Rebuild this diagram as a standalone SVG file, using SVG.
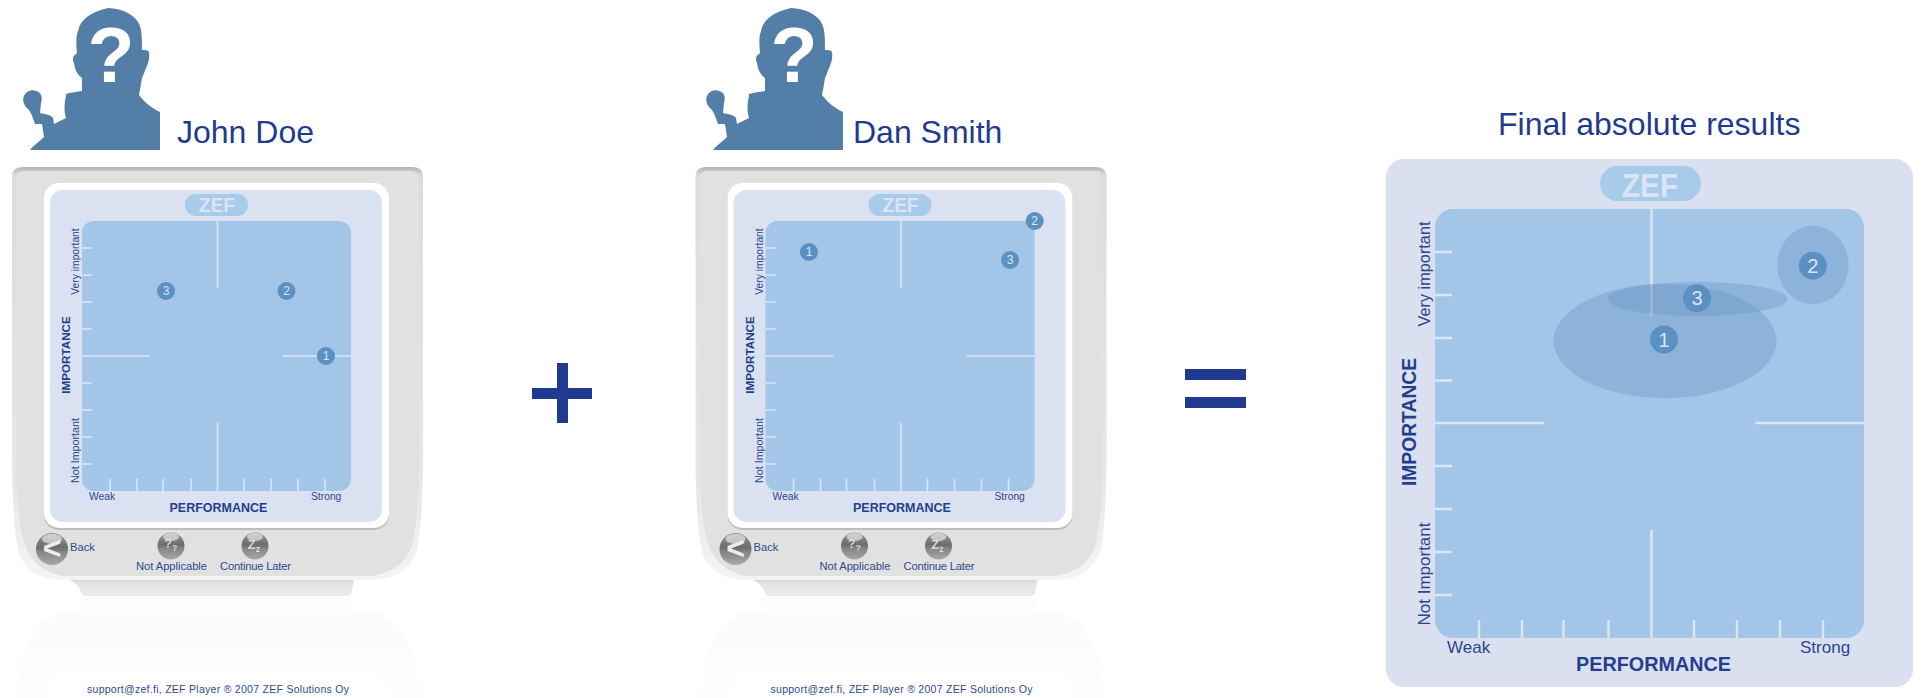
<svg xmlns="http://www.w3.org/2000/svg" width="1921" height="698" viewBox="0 0 1921 698">
<style>
text{font-family:"Liberation Sans",Arial,sans-serif;fill:#1f3a8f}
.name{font-size:32px}
.m{fill:#5b91c2}
.mt{fill:#dbe6f3;font-size:12px;text-anchor:middle}
.mtb{fill:#dbe6f3;font-size:20px;text-anchor:middle}
.q{fill:#fff;font-size:77px;font-weight:bold;text-anchor:middle}
.zef{fill:#dbe4f4;font-weight:bold;text-anchor:middle}
.axb{font-weight:bold;fill:#24408c}
.ax{fill:#2c4590}
.btn{fill:#2f4a8f;font-size:11.2px}
.foot{font-size:10.5px;fill:#2f4a8f}
.g{fill:#eee;font-weight:bold;text-anchor:middle}
.tick{stroke:#dbe6f4;stroke-width:1.6;fill:none}
.tickb{stroke:#dbe6f4;stroke-width:2.4;fill:none}
</style>
<defs>
<linearGradient id="bg" x1="0" y1="0" x2="0" y2="1"><stop offset="0" stop-color="#9a9a9a"/><stop offset=".45" stop-color="#6c6c6c"/><stop offset=".6" stop-color="#868686"/><stop offset="1" stop-color="#a8a8a8"/></linearGradient>
<linearGradient id="rf" x1="0" y1="0" x2="0" y2="1"><stop offset="0" stop-color="#fbfbfb"/><stop offset="1" stop-color="#fdfdfd"/></linearGradient>
<linearGradient id="rim" x1="0" y1="0" x2="0" y2="1"><stop offset="0" stop-color="#b4b4b4"/><stop offset=".02" stop-color="#dcdcdc"/><stop offset=".75" stop-color="#e6e6e6"/><stop offset="1" stop-color="#f4f4f4"/></linearGradient>
<linearGradient id="neck" x1="0" y1="0" x2="0" y2="1"><stop offset="0" stop-color="#d0d0d0"/><stop offset=".3" stop-color="#e4e4e4"/><stop offset="1" stop-color="#ececec"/></linearGradient>
<filter id="s" x="-5%" y="-5%" width="110%" height="110%"><feGaussianBlur stdDeviation=".7"/></filter>
<g id="person">
<path fill="#527ea8" d="M30 150C33 146 40 141 44 137L42 124L35 124C33 118 31 112 28 109C24 106 22 100 24 96C26 91 32 89 36 91C41 92 43 97 41 103L40 113C45 114 51 115 53 118L54 124C58 122 62 120 66 118C64 112 64 104 66 96L66 94C72 92 77 92 82 91L82 78C77 74 75 70 74 63C72 59 73 56 76 54L77 53C76 44 76 36 78 31C80 20 90 12 108 8C122 9 132 13 138 22C142 28 142 38 142 50C145 50 148 50 149 52C150 58 148 64 146 68C144 73 143 76 142 78C141 84 140 90 139 95C144 102 152 108 160 112V150Z"/>
</g>
<g id="device">
<path fill="url(#rf)" d="M60 612H375Q410 625 417 670L420 698H17L20 670Q28 625 60 612Z"/>
<path fill="#fff" opacity=".7" d="M62 667H372Q390 672 392 698H44Q46 672 62 667Z"/>
<path fill="#fcfcfc" d="M80 597H352L350 612H82Z"/>
<path fill="url(#neck)" d="M78 578H354L352 592Q351 596 348 596H84Q82 596 81 592Q80 586 70 580Z"/>
<path fill="url(#rim)" filter="url(#s)" d="M22 167H413Q423 167 423 177L423 450Q423 520 417 550Q408 578 375 580H60Q26 578 18 550Q12 520 12 450V177Q12 167 22 167Z"/>
<path fill="none" stroke="#bdbdbd" stroke-width="1.5" d="M60 580H375" filter="url(#s)"/>
<path fill="#e1e1e1" d="M24 171H411Q419 171 419 180L419 450Q419 518 412 545Q404 571 372 576H62Q34 570 25 545Q16 518 16 450V180Q16 171 24 171Z"/>
<rect x="44" y="185" width="345" height="345" rx="15" fill="#bcbcbc" filter="url(#s)"/>
<rect x="44" y="183" width="345" height="345" rx="15" fill="#fff"/>
<rect x="50" y="190" width="332" height="332" rx="13" fill="#dae2f2"/>
<rect x="185" y="194" width="63" height="22" rx="11" fill="#a8cbea"/>
<rect x="82" y="221" width="269" height="270" rx="12" fill="#a2c5e8"/>
<path class="tick" d="M217.500 221V288M217.500 423V491M82 356H150M283 356H352M82 248H92M82 275H92M82 302H92M82 329H92M82 383H92M82 410H92M82 437H92M82 464H92M110 479V491M137 479V491M163 479V491M191 479V491M244 479V491M271 479V491M298 479V491M325 479V491"/>
<circle cx="52" cy="549" r="16" fill="url(#bg)"/>
<ellipse cx="52" cy="539" rx="10" ry="5" fill="#fff" opacity=".55"/>
<circle cx="171" cy="546" r="13.500" fill="url(#bg)"/>
<ellipse cx="171" cy="537" rx="8" ry="4" fill="#fff" opacity=".55"/>
<circle cx="255" cy="546" r="13.500" fill="url(#bg)"/>
<ellipse cx="255" cy="537" rx="8" ry="4" fill="#fff" opacity=".55"/>
</g>
</defs>

<g id="connectors"></g>

<g id="john-doe">
<use href="#person"/>
<text class="q" x="111" y="82">?</text>
<text class="name" x="177" y="143">John Doe</text>
</g>
<g id="john-device">
<use href="#device"/>
<text class="zef" x="217" y="212" font-size="20" textLength="36" lengthAdjust="spacingAndGlyphs">ZEF</text>
<text class="axb" font-size="11.700" text-anchor="middle" transform="translate(70 355) rotate(-90)">IMPORTANCE</text>
<text class="axb" font-size="12.500" x="218.500" y="512" text-anchor="middle">PERFORMANCE</text>
<text class="ax" font-size="10.300" text-anchor="middle" transform="translate(79 261.500) rotate(-90)">Very important</text>
<text class="ax" font-size="10.700" text-anchor="middle" transform="translate(79 450.500) rotate(-90)">Not Important</text>
<text class="ax" font-size="10.300" x="89" y="500">Weak</text>
<text class="ax" font-size="10.300" x="311" y="500">Strong</text>
<circle class="m" cx="166" cy="291" r="9"/><text class="mt" x="166" y="295">3</text>
<circle class="m" cx="286.500" cy="291" r="9"/><text class="mt" x="286.500" y="295">2</text>
<circle class="m" cx="326" cy="356" r="9"/><text class="mt" x="326" y="360">1</text>
<text class="g" x="52" y="559" font-size="32">&lt;</text>
<text class="g" x="171" y="548" font-size="12" opacity=".8">?<tspan font-size="9" dy="3">?</tspan></text>
<text class="g" x="254" y="549" font-size="13" opacity=".8">Z<tspan font-size="9" dy="3">z</tspan></text>
<text class="btn" x="70" y="551">Back</text>
<text class="btn" x="136" y="570" textLength="71">Not Applicable</text>
<text class="btn" x="220" y="570" textLength="71">Continue Later</text>
<text class="foot" x="87" y="693" textLength="262">support@zef.fi, ZEF Player ® 2007 ZEF Solutions Oy</text>
</g>

<g id="dan-smith">
<use href="#person" x="683"/>
<text class="q" x="794" y="82">?</text>
<text class="name" x="853" y="143">Dan Smith</text>
</g>
<g id="dan-device">
<use href="#device" x="683.500"/>
<text class="zef" x="900.500" y="212" font-size="20" textLength="36" lengthAdjust="spacingAndGlyphs">ZEF</text>
<text class="axb" font-size="11.700" text-anchor="middle" transform="translate(753.500 355) rotate(-90)">IMPORTANCE</text>
<text class="axb" font-size="12.500" x="902" y="512" text-anchor="middle">PERFORMANCE</text>
<text class="ax" font-size="10.300" text-anchor="middle" transform="translate(762.500 261.500) rotate(-90)">Very important</text>
<text class="ax" font-size="10.700" text-anchor="middle" transform="translate(762.500 450.500) rotate(-90)">Not Important</text>
<text class="ax" font-size="10.300" x="772.500" y="500">Weak</text>
<text class="ax" font-size="10.300" x="994.500" y="500">Strong</text>
<circle class="m" cx="809" cy="252" r="9"/><text class="mt" x="809" y="256">1</text>
<circle class="m" cx="1034.700" cy="221" r="9"/><text class="mt" x="1034.700" y="225">2</text>
<circle class="m" cx="1010" cy="260" r="9"/><text class="mt" x="1010" y="264">3</text>
<text class="g" x="735.500" y="559" font-size="32">&lt;</text>
<text class="g" x="854.500" y="548" font-size="12" opacity=".8">?<tspan font-size="9" dy="3">?</tspan></text>
<text class="g" x="937.500" y="549" font-size="13" opacity=".8">Z<tspan font-size="9" dy="3">z</tspan></text>
<text class="btn" x="753.500" y="551">Back</text>
<text class="btn" x="819.500" y="570" textLength="71">Not Applicable</text>
<text class="btn" x="903.500" y="570" textLength="71">Continue Later</text>
<text class="foot" x="770.500" y="693" textLength="262">support@zef.fi, ZEF Player ® 2007 ZEF Solutions Oy</text>
</g>

<g id="plus"><path fill="#1f3a8f" d="M557 363H568V388H592V399H568V423H557V399H532V388H557Z"/></g>
<g id="equals"><rect x="1185" y="369" width="61" height="11" fill="#1f3a8f"/><rect x="1185" y="397" width="61" height="11" fill="#1f3a8f"/></g>

<g id="final-results">
<text x="1498" y="135" font-size="32">Final absolute results</text>
<rect x="1386" y="159" width="527" height="528" rx="18" fill="#dae0f0"/>
<rect x="1600" y="166" width="101" height="35" rx="17.500" fill="#a8cbea"/>
<text class="zef" x="1650" y="197" font-size="33" textLength="56" lengthAdjust="spacingAndGlyphs">ZEF</text>
<rect x="1435" y="209" width="429" height="429" rx="18" fill="#a2c5e8"/>
<path class="tickb" d="M1651.500 209V316M1651.500 530V638M1435 423H1544M1755.500 423H1865M1435 252H1452M1435 295H1452M1435 338H1452M1435 380.500H1452M1435 466H1452M1435 509H1452M1435 552H1452M1435 595H1452M1479 620V638M1522 620V638M1563.500 620V638M1608.500 620V638M1694 620V638M1737 620V638M1780 620V638M1823 620V638"/>
<ellipse cx="1665" cy="341" rx="111.500" ry="57" fill="#5f8cbd" opacity=".3"/>
<ellipse cx="1697.500" cy="299" rx="90" ry="17" fill="#5f8cbd" opacity=".3"/>
<ellipse cx="1813" cy="265" rx="35.600" ry="39.300" fill="#5f8cbd" opacity=".3"/>
<circle class="m" cx="1664" cy="339.500" r="14"/><text class="mtb" x="1664" y="346.500">1</text>
<circle class="m" cx="1812.800" cy="265.700" r="14"/><text class="mtb" x="1812.800" y="272.700">2</text>
<circle class="m" cx="1697" cy="298.300" r="14"/><text class="mtb" x="1697" y="305.300">3</text>
<text class="axb" font-size="19.300" text-anchor="middle" transform="translate(1416 422) rotate(-90)">IMPORTANCE</text>
<text class="axb" font-size="20.500" x="1576" y="671" textLength="155" lengthAdjust="spacingAndGlyphs">PERFORMANCE</text>
<text class="ax" font-size="16.300" text-anchor="middle" transform="translate(1430 274) rotate(-90)">Very important</text>
<text class="ax" font-size="17" text-anchor="middle" transform="translate(1430 574) rotate(-90)">Not Important</text>
<text class="ax" font-size="17" x="1447" y="653">Weak</text>
<text class="ax" font-size="17" x="1800" y="653">Strong</text>
</g>
</svg>
